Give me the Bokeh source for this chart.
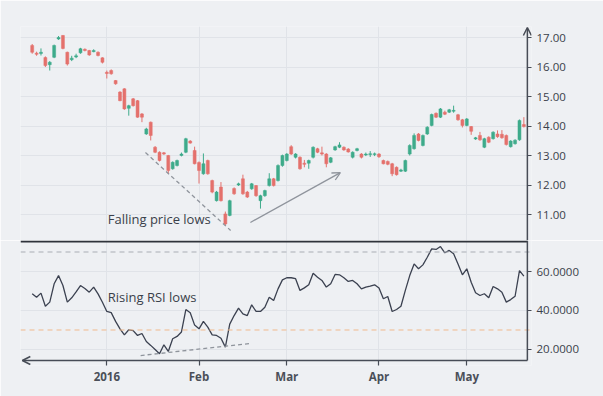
from bokeh.plotting import figure
from bokeh.layouts import column
from bokeh.models import (Range1d, FixedTicker, Span, Arrow, OpenHead, ColumnDataSource,
                          PrintfTickFormatter, Label, Grid)
from bokeh.embed import file_html
from bokeh.resources import INLINE

# ---------------- data ----------------
opens = [16.73, 16.47, 16.46, 16.32, 16.08, 16.33, 16.95, 17.07, 16.50, 16.25,
         16.34, 16.48, 16.60, 16.56, 16.52, 16.50, 16.31, 15.82, 15.88, 15.54,
         15.15, 15.26, 14.60, 14.92, 14.86, 14.41, 13.73, 14.13, 13.28, 13.11,
         13.09, 13.00, 12.55, 12.66, 13.00, 13.11, 13.49, 13.17, 12.76, 12.38,
         12.83, 12.15, 11.47, 11.93, 11.02, 10.97, 11.88, 12.00, 12.21, 11.76,
         11.87, 11.98, 11.47, 11.64, 11.98, 12.21, 12.15, 12.66, 12.83, 13.30,
         12.94, 12.94, 12.74, 12.74, 12.94, 13.23, 13.09, 13.05, 12.77, 13.19,
         13.28, 13.28, 13.22, 12.94, 13.17, 13.05, 13.02, 13.03, 13.03, 13.05,
         12.83, 12.80, 12.72, 12.60, 12.47, 12.47, 13.05, 13.23, 13.73, 13.34,
         13.73, 14.02, 14.43, 14.30, 14.47, 14.47, 14.50, 14.38, 14.21, 14.02,
         13.98, 13.56, 13.68, 13.28, 13.62, 13.57, 13.73, 13.72, 13.68, 13.30,
         13.40, 13.53, 14.05]
closes = [16.50, 16.43, 16.50, 16.05, 16.16, 16.73, 17.00, 16.63, 16.10, 16.30,
          16.38, 16.62, 16.56, 16.41, 16.56, 16.39, 16.16, 15.78, 15.77, 15.43,
          14.86, 14.58, 14.69, 14.69, 14.30, 14.30, 13.90, 13.68, 13.11, 12.83,
          13.05, 12.49, 12.77, 12.83, 13.05, 13.57, 13.42, 12.72, 12.49, 12.72,
          12.38, 11.76, 11.76, 11.47, 10.68, 11.47, 11.70, 12.04, 11.70, 11.59,
          12.04, 11.64, 11.64, 11.81, 12.21, 11.98, 12.66, 13.00, 13.05, 13.05,
          13.05, 12.55, 12.70, 12.83, 13.28, 13.11, 13.05, 12.72, 12.92, 13.30,
          13.36, 13.19, 13.12, 13.11, 13.23, 12.94, 13.05, 13.06, 13.06, 12.96,
          12.72, 12.70, 12.38, 12.35, 12.51, 12.83, 13.34, 13.68, 13.51, 13.68,
          13.96, 14.39, 14.30, 14.58, 14.40, 14.55, 14.53, 14.21, 14.02, 14.24,
          13.82, 13.60, 13.53, 13.57, 13.45, 13.79, 13.64, 13.60, 13.37, 13.49,
          13.52, 14.19, 13.98]
highs = [16.78, 16.52, 16.63, 16.36, 16.20, 16.76, 17.05, 17.08, 16.52, 16.38,
         16.45, 16.65, 16.63, 16.58, 16.60, 16.53, 16.33, 15.88, 15.92, 15.56,
         15.18, 15.28, 14.72, 14.95, 14.88, 14.44, 13.94, 14.15, 13.32, 13.14,
         13.12, 13.02, 12.80, 12.86, 13.10, 13.60, 13.52, 13.30, 12.80, 13.07,
         12.86, 12.18, 11.80, 12.10, 11.10, 11.50, 11.92, 12.08, 12.35, 11.80,
         12.07, 12.00, 11.67, 11.84, 12.40, 12.24, 12.70, 13.03, 13.08, 13.35,
         13.08, 12.97, 12.85, 12.86, 13.31, 13.26, 13.30, 13.08, 12.95, 13.33,
         13.45, 13.31, 13.25, 13.14, 13.26, 13.08, 13.10, 13.15, 13.10, 13.08,
         12.86, 12.83, 12.75, 12.63, 12.55, 12.86, 13.38, 13.75, 13.76, 13.71,
         13.99, 14.42, 14.46, 14.61, 14.52, 14.58, 14.69, 14.41, 14.24, 14.27,
         14.00, 13.63, 13.80, 13.60, 13.65, 13.82, 13.85, 13.86, 13.71, 13.52,
         13.55, 14.22, 14.30]
lows = [16.45, 16.38, 16.39, 16.00, 15.88, 16.30, 16.92, 16.60, 16.05, 16.20,
        16.30, 16.45, 16.53, 16.38, 16.50, 16.36, 16.12, 15.61, 15.74, 15.40,
        14.84, 14.55, 14.35, 14.66, 14.28, 14.13, 13.70, 13.51, 13.08, 12.80,
        13.02, 12.38, 12.52, 12.63, 12.97, 13.08, 13.40, 12.70, 12.05, 12.35,
        12.35, 11.72, 11.44, 11.44, 10.62, 10.94, 11.67, 11.97, 11.67, 11.56,
        11.84, 11.60, 11.20, 11.60, 11.95, 11.95, 12.12, 12.62, 12.80, 13.02,
        12.90, 12.52, 12.60, 12.55, 12.90, 13.08, 13.00, 12.60, 12.74, 13.16,
        13.25, 13.16, 13.10, 12.90, 13.14, 12.90, 12.98, 12.95, 12.98, 12.92,
        12.70, 12.67, 12.30, 12.32, 12.44, 12.44, 13.00, 13.20, 13.48, 13.31,
        13.70, 13.99, 14.27, 14.27, 14.37, 14.44, 14.45, 14.18, 13.95, 13.99,
        13.70, 13.53, 13.50, 13.25, 13.42, 13.54, 13.60, 13.57, 13.34, 13.27,
        13.37, 13.50, 13.95]
rsi = [48.6, 46.8, 48.9, 42.2, 44.3, 53.7, 57.9, 52.8, 44.3, 46.5,
       49.5, 52.8, 51.3, 49.4, 52.0, 48.5, 44.2, 39.5, 38.9, 34.4,
       30.6, 27.5, 30.1, 29.7, 27.2, 28.2, 24.1, 22.1, 20.0, 17.8,
       22.4, 19.0, 25.5, 26.7, 29.0, 40.5, 38.8, 32.5, 30.6, 34.4,
       31.5, 27.5, 27.2, 25.8, 21.2, 33.0, 37.4, 41.2, 38.3, 37.4,
       42.9, 39.5, 39.5, 41.7, 46.8, 45.1, 51.1, 55.7, 56.8, 56.8,
       56.3, 50.3, 51.6, 53.2, 59.1, 57.1, 55.4, 52.0, 53.7, 58.5,
       58.3, 56.8, 54.9, 55.4, 53.7, 51.1, 52.0, 52.5, 53.2, 51.5,
       46.0, 47.2, 39.5, 40.5, 42.2, 50.3, 57.9, 63.9, 61.4, 63.4,
       67.3, 71.6, 71.3, 72.8, 69.6, 70.8, 69.1, 63.9, 58.3, 61.4,
       54.5, 49.1, 47.7, 48.6, 46.5, 52.3, 51.1, 49.4, 44.3, 45.6,
       47.3, 60.5, 57.6]
month_ticks = [17, 38, 58, 79, 99]
month_labels = ["2016", "Feb", "Mar", "Apr", "May"]
price_ticks = [11, 12, 13, 14, 15, 16, 17]
rsi_ticks = [20, 40, 60]
rsi_levels = [70, 30]

# trend annotations (index, value)
price_trend_x = [25.8, 45.2]
price_trend_y = [13.10, 10.46]
price_arrow_x = [49.7, 70.2]
price_arrow_y = [10.73, 12.42]
rsi_trend_x = [24.7, 49.7]
rsi_trend_y = [16.9, 23.1]

# ---------------- styling ----------------
BG = "#eef0f3"
GRID = "#e0e3e8"
AX = "#474c56"
TXT = "#3a3f4a"
UP = "#3eab8b"
DOWN = "#e4716c"
FONT = "Open Sans"

X_AXIS_POS = 112.8      # index where the right-hand axis line sits
RSI_AXIS_POS = 14.36    # RSI value where the bottom axis line sits
PRICE_TOP = 17.373
PRICE_BOTTOM = 10.119
RSI_TOP = 75.9

n = len(opens)
xs = list(range(n))
colors = [UP if c >= o else DOWN for o, c in zip(opens, closes)]
src = ColumnDataSource(dict(
    x=xs, top=[max(o, c) for o, c in zip(opens, closes)],
    bottom=[min(o, c) for o, c in zip(opens, closes)],
    high=highs, low=lows, color=colors))

x_range = Range1d(-2.665, 113.74)


def style_right_axis(ax, ticks, fmt):
    ax.ticker = FixedTicker(ticks=ticks)
    ax.formatter = PrintfTickFormatter(format=fmt)
    ax.axis_line_color = None
    ax.major_tick_line_color = AX
    ax.major_tick_line_width = 1.2
    ax.major_tick_in = 4
    ax.major_tick_out = 0
    ax.minor_tick_line_color = None
    ax.major_label_text_font = FONT
    ax.major_label_text_font_size = "11.5px"
    ax.major_label_text_color = TXT
    ax.major_label_standoff = 5


# ---------------- price panel ----------------
p1 = figure(width=603, height=240, x_range=x_range, y_range=Range1d(PRICE_BOTTOM, PRICE_TOP),
            output_backend="svg", toolbar_location=None, x_axis_location=None,
            y_axis_location="right", min_border_left=20, min_border_right=72,
            min_border_top=26, min_border_bottom=0)
p1.background_fill_color = BG
p1.border_fill_color = BG
p1.outline_line_color = None
p1.grid.grid_line_color = None
p1.add_layout(Grid(dimension=0, ticker=FixedTicker(ticks=month_ticks), grid_line_color=GRID))
p1.add_layout(Grid(dimension=1, ticker=FixedTicker(ticks=price_ticks), grid_line_color=GRID))

p1.segment(x0="x", y0="low", x1="x", y1="high", source=src, line_color="color", line_width=1)
p1.vbar(x="x", top="top", bottom="bottom", width=0.68, source=src,
        fill_color="color", line_color="color", line_width=0.5)

p1.line(price_trend_x, price_trend_y, line_color="#8f949c", line_width=1.3, line_dash="4 3")
p1.add_layout(Arrow(end=OpenHead(size=8, line_color="#8f949c", line_width=1.3),
                    x_start=price_arrow_x[0], y_start=price_arrow_y[0],
                    x_end=price_arrow_x[1], y_end=price_arrow_y[1],
                    line_color="#8f949c", line_width=1.3))
p1.add_layout(Label(x=17.2, y=10.86, text="Falling price lows", text_font=FONT,
                    text_font_size="13px", text_color=TXT, text_baseline="middle"))

style_right_axis(p1.yaxis[0], price_ticks, "%.2f")
# right axis line with arrow head at top
p1.add_layout(Arrow(end=OpenHead(size=8, line_color=AX, line_width=1.5),
                    x_start=X_AXIS_POS, y_start=PRICE_BOTTOM, x_end=X_AXIS_POS, y_end=17.34,
                    line_color=AX, line_width=1.5))

# ---------------- RSI panel ----------------
p2 = figure(width=603, height=156, x_range=x_range, y_range=Range1d(11.79, RSI_TOP),
            output_backend="svg", toolbar_location=None, y_axis_location="right",
            min_border_left=20, min_border_right=72, min_border_top=0, min_border_bottom=31)
p2.background_fill_color = BG
p2.border_fill_color = BG
p2.outline_line_color = None
p2.grid.grid_line_color = None
p2.add_layout(Grid(dimension=0, ticker=FixedTicker(ticks=month_ticks), grid_line_color=GRID))
p2.add_layout(Grid(dimension=1, ticker=FixedTicker(ticks=rsi_ticks), grid_line_color=GRID))

# panel separator
p2.add_layout(Arrow(end=None, x_start=-2.665, y_start=75.4, x_end=X_AXIS_POS, y_end=75.4,
                    line_color="#2f333b", line_width=2))
p2.add_layout(Span(location=rsi_levels[0], dimension="width", line_color="#a9adb4",
                   line_width=1, line_dash="5 4"))
p2.add_layout(Span(location=rsi_levels[1], dimension="width", line_color="#f0b98c",
                   line_width=1, line_dash="5 4"))

p2.line(xs, rsi, line_color="#3b4150", line_width=1.3)
p2.line(rsi_trend_x, rsi_trend_y, line_color="#8f949c", line_width=1.3, line_dash="4 3")
p2.add_layout(Label(x=17.2, y=46.7, text="Rising RSI lows", text_font=FONT,
                    text_font_size="13px", text_color=TXT, text_baseline="middle"))

style_right_axis(p2.yaxis[0], rsi_ticks, "%.4f")
p2.add_layout(Arrow(end=None, x_start=X_AXIS_POS, y_start=RSI_TOP, x_end=X_AXIS_POS,
                    y_end=RSI_AXIS_POS, line_color=AX, line_width=1.5))

xa = p2.xaxis[0]
xa.ticker = FixedTicker(ticks=month_ticks)
xa.major_label_overrides = {t: l for t, l in zip(month_ticks, month_labels)}
xa.axis_line_color = None
xa.major_tick_line_color = AX
xa.major_tick_line_width = 1.2
xa.major_tick_in = 5
xa.major_tick_out = 0
xa.minor_tick_line_color = None
xa.major_label_text_font = FONT
xa.major_label_text_font_size = "11.5px"
xa.major_label_text_font_style = "bold"
xa.major_label_text_color = "#4a4f58"
xa.major_label_standoff = 3
# bottom axis line with arrow head at left
p2.add_layout(Arrow(end=OpenHead(size=8, line_color=AX, line_width=1.5),
                    x_start=X_AXIS_POS, y_start=RSI_AXIS_POS, x_end=-2.25, y_end=RSI_AXIS_POS,
                    line_color=AX, line_width=1.5))

layout = column(p1, p2, spacing=0)
open("out.html", "w").write(file_html(layout, INLINE))
